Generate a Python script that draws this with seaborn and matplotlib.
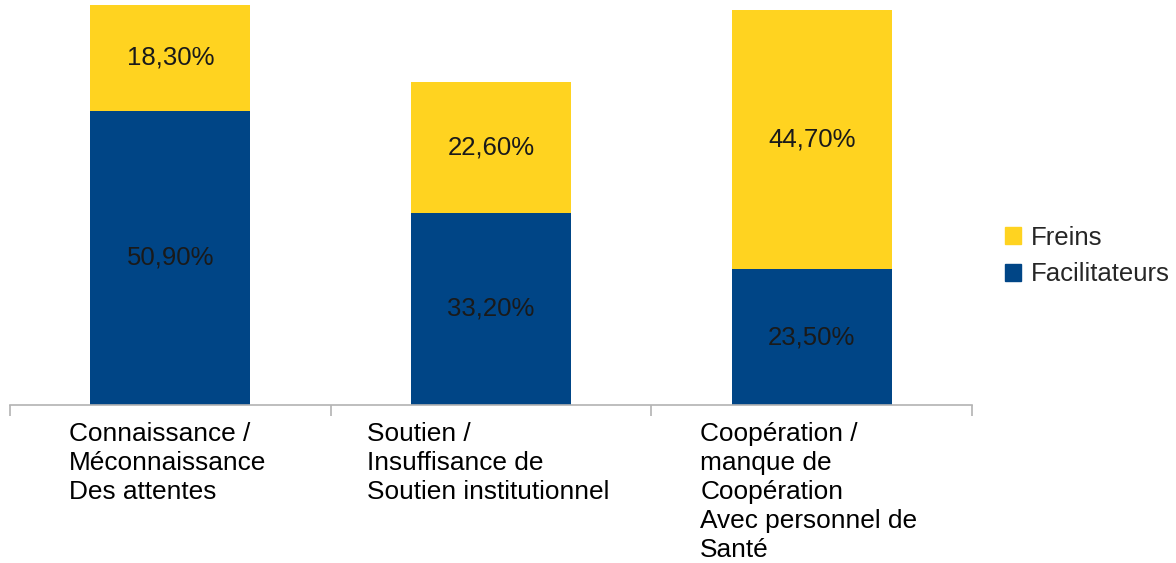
import matplotlib
matplotlib.use("Agg")
import matplotlib.pyplot as plt
import matplotlib.patches as mpatches
import seaborn as sns
import pandas as pd

# data
categories = [
    "Connaissance /\nMéconnaissance\nDes attentes",
    "Soutien /\nInsuffisance de\nSoutien institutionnel",
    "Coopération /\nmanque de\nCoopération\nAvec personnel de\nSanté",
]
facilitateurs = [50.9, 33.2, 23.5]
freins = [18.3, 22.6, 44.7]

blue = "#004586"
yellow = "#ffd320"

sns.set_style("white")
plt.rcParams["font.family"] = ["Liberation Sans", "DejaVu Sans"]

df = pd.DataFrame({"cat": categories, "fac": facilitateurs, "frein": freins})
df["total"] = df["fac"] + df["frein"]

fig = plt.figure(figsize=(11.76, 5.63), dpi=100)
ax = fig.add_axes([10 / 1176, 1 - 405 / 563, 962 / 1176, 405 / 563])

# stacked bars: totals in yellow, facilitateurs drawn over in blue
sns.barplot(data=df, x="cat", y="total", color=yellow, width=0.5, saturation=1,
            linewidth=0, ax=ax)
sns.barplot(data=df, x="cat", y="fac", color=blue, width=0.5, saturation=1,
            linewidth=0, ax=ax)

ax.set_xlim(-0.5, 2.5)
ax.set_ylim(0, 70)
ax.set_xlabel("")
ax.set_ylabel("")
ax.set_yticks([])
ax.set_xticks([])
ax.set_xticks([-0.5, 0.5, 1.5, 2.5], minor=True)
ax.tick_params(axis="x", which="minor", length=8, color="#b3b3b3", width=1.2, bottom=True)
for s in ["top", "right", "left"]:
    ax.spines[s].set_visible(False)
ax.spines["bottom"].set_color("#b3b3b3")
ax.spines["bottom"].set_linewidth(1.2)

def fmt(v):
    return f"{v:.2f}".replace(".", ",") + "%"

for i, (f, r) in enumerate(zip(facilitateurs, freins)):
    ax.text(i, f / 2, fmt(f), ha="center", va="center", fontsize=18.5, color="#1a1a1a")
    ax.text(i, f + r / 2, fmt(r), ha="center", va="center", fontsize=18.5, color="#1a1a1a")
    ax.annotate(categories[i], xy=(i, 0), xycoords=("data", "axes fraction"),
                xytext=(-2, -12), textcoords="offset points",
                ha="center", va="top", multialignment="left",
                fontsize=18.9, linespacing=1.27, color="black")

handles = [mpatches.Patch(color=yellow, label="Freins"),
           mpatches.Patch(color=blue, label="Facilitateurs")]
fig.legend(handles=handles, loc="center left", bbox_to_anchor=(995 / 1176, 1 - 256 / 563),
           frameon=False, fontsize=18.5, handlelength=0.6, handleheight=0.6,
           handletextpad=0.4, labelspacing=0.5, borderaxespad=0)

fig.savefig("out.png", dpi=100)
